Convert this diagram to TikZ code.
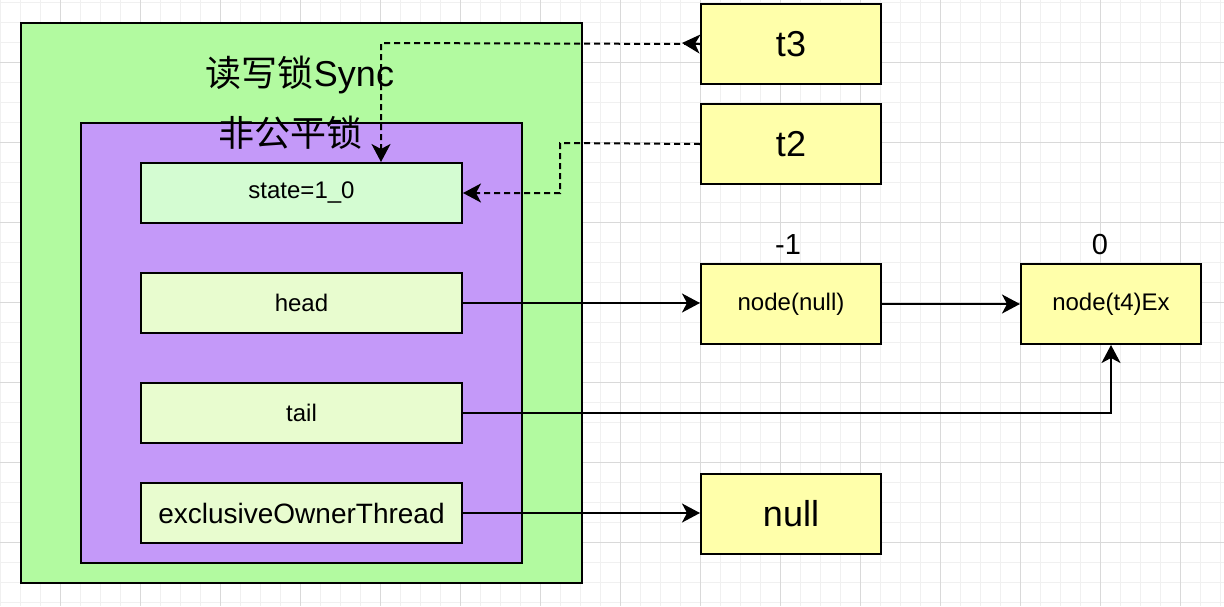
\documentclass[tikz,border=0pt]{standalone}
\usepackage{fontspec}
\setmainfont{Liberation Sans}
\newfontfamily\cjk{Noto Sans CJK SC}
\usetikzlibrary{arrows.meta}
\definecolor{gridminor}{HTML}{F0F0F0}
\definecolor{gridmajor}{HTML}{D9D9D9}
\definecolor{syncgreen}{HTML}{B2FAA0}
\definecolor{lockpurple}{HTML}{C499F9}
\definecolor{statefill}{HTML}{D4FCD2}
\definecolor{fieldfill}{HTML}{E8FCCF}
\definecolor{nodeyellow}{HTML}{FFFFAA}
\begin{document}
\begin{tikzpicture}[x=1pt,y=-1pt,
  box/.style={draw=black,line width=2pt,inner sep=0pt,anchor=north west},
  field/.style={box,fill=fieldfill,minimum width=321pt,minimum height=60pt,font=\fontsize{24}{28}\selectfont},
  ynode/.style={box,fill=nodeyellow,minimum width=180pt,minimum height=80pt},
  tipstyle/.style={-{Stealth[length=18pt,width=19pt,inset=5pt]}},
  conn/.style={line width=2pt,tipstyle},
  dsh/.style={dash pattern=on 6pt off 4pt}
]
\useasboundingbox (0,0) rectangle (1224,606);
\fill[white] (0,0) rectangle (1224,606);
% grid
\foreach \x in {0,20,...,1220} \draw[gridminor,line width=1pt] (\x,0) -- (\x,606);
\foreach \y in {2,22,...,602} \draw[gridminor,line width=1pt] (0,\y) -- (1224,\y);
\foreach \x in {60,140,...,1180} \draw[gridmajor,line width=1pt] (\x,0) -- (\x,606);
\foreach \y in {62,142,...,542} \draw[gridmajor,line width=1pt] (0,\y) -- (1224,\y);

% containers
\node[box,fill=syncgreen,minimum width=561pt,minimum height=560pt] (sync) at (20,22) {};
\node[box,fill=lockpurple,minimum width=441pt,minimum height=440pt] (lock) at (80,122) {};
\node[font=\fontsize{36}{40}\selectfont,inner sep=0pt] (synclbl) at (300,75) {{\cjk 读写锁}Sync};
\node[font=\fontsize{36}{40}\selectfont,inner sep=0pt] (locklbl) at (290,133) {\cjk 非公平锁};

% fields
\node[field,fill=statefill] (state) at (140,162) {state=1\_0};
\node[field] (head) at (140,272) {head};
\node[field] (tail) at (140,382) {tail};
\node[field,font=\fontsize{28}{32}\selectfont] (excl) at (140,482) {exclusiveOwnerThread};

% yellow nodes
\node[ynode,font=\fontsize{36}{40}\selectfont] (t3) at (700,3) {t3};
\node[ynode,font=\fontsize{36}{40}\selectfont] (t2) at (700,103) {t2};
\node[ynode,font=\fontsize{24}{28}\selectfont] (nnull) at (700,263) {node(null)};
\node[ynode,font=\fontsize{24}{28}\selectfont] (nt4) at (1020,263) {node(t4)Ex};
\node[ynode,font=\fontsize{36}{40}\selectfont] (null) at (700,473) {null};
\node[font=\fontsize{29}{32}\selectfont,inner sep=0pt] (lblm1) at (788,245) {-1};
\node[font=\fontsize{29}{32}\selectfont,inner sep=0pt] (lbl0) at (1100,245) {0};

% connectors
\coordinate (c3) at (381,43);
\coordinate (c2) at (560,143);
\coordinate (t3tip) at (682,43);
\draw[conn,dsh] (t3.west) -- (c3) -- (c3 |- state.north);
\draw[conn] (t3.west) -- (t3tip);
\draw[conn,dsh] (t2.west) -- (c2) |- (state.east);
\draw[conn] (head.east) -- (head.east -| nnull.west);
\draw[conn] (nnull.east) -- (nt4.west);
\draw[conn] (tail.east) -| (nt4.south);
\draw[conn] (excl.east) -- (excl.east -| null.west);
\end{tikzpicture}
\end{document}
